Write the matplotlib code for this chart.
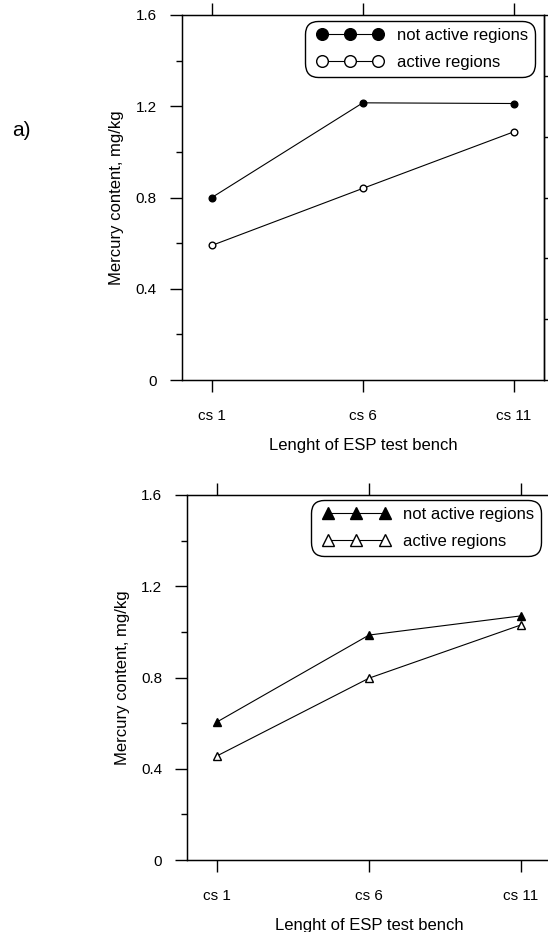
import matplotlib.pyplot as plt
from matplotlib.ticker import MultipleLocator
from matplotlib.lines import Line2D
from matplotlib.legend_handler import HandlerLine2D

plt.rcParams['font.family'] = ['Liberation Sans', 'DejaVu Sans']

# data
positions = [1, 6, 11]
tick_labels = ['cs 1', 'cs 6', 'cs 11']
y_ticks = [0, 0.4, 0.8, 1.2, 1.6]
y_tick_labels = ['0', '0.4', '0.8', '1.2', '1.6']
a_not_active = [0.80, 1.215, 1.212]
a_active = [0.59, 0.84, 1.088]
b_not_active = [0.606, 0.986, 1.07]
b_active = [0.457, 0.797, 1.03]

W, H = 548, 932
fig = plt.figure(figsize=(W / 100, H / 100), dpi=100)


def make_axes(left, top, right, bottom):
    # pixel box -> figure fraction
    return fig.add_axes([left / W, (H - bottom) / H, (right - left) / W, (bottom - top) / H])


def style_axes(ax):
    ax.set_xlim(0, 12)
    ax.set_ylim(0, 1.6)
    ax.set_xticks(positions)
    ax.set_xticklabels(tick_labels)
    ax.set_yticks(y_ticks)
    ax.set_yticklabels(y_tick_labels)
    ax.yaxis.set_minor_locator(MultipleLocator(0.2))
    ax.tick_params(axis='x', which='both', direction='out', top=True, length=8.6, width=1,
                   pad=12, labelsize=11)
    ax.tick_params(axis='y', which='major', direction='out', length=9, width=1, pad=9, labelsize=11)
    ax.tick_params(axis='y', which='minor', direction='out', length=4.3, width=1)
    for s in ax.spines.values():
        s.set_linewidth(1)
    ax.set_xlabel('Lenght of ESP test bench', fontsize=12, labelpad=11)
    ax.set_ylabel('Mercury content, mg/kg', fontsize=12, labelpad=8)
    # right axis with its own scale (labels fall outside the picture)
    ax2 = ax.twinx()
    ax2.set_ylim(0, 6)
    ax2.yaxis.set_major_locator(MultipleLocator(1))
    ax2.tick_params(axis='y', direction='out', length=9, width=1, labelright=False)
    ax2.spines['right'].set_linewidth(1)
    return ax2


def add_legend(ax, x, y):
    leg = ax.legend(loc='upper right', bbox_to_anchor=(x, y), numpoints=3, markerscale=1.75,
                    fontsize=12, handlelength=4.6, handletextpad=0.5, labelspacing=0.7,
                    borderpad=0.42, borderaxespad=0, frameon=True, fancybox=True,
                    handler_map={Line2D: HandlerLine2D(marker_pad=0.6)})
    frame = leg.get_frame()
    frame.set_edgecolor('black')
    frame.set_linewidth(1)
    frame.set_alpha(1)
    frame.set_boxstyle('round', pad=0, rounding_size=0.8)
    return leg


# a) circles
ax_a = make_axes(181.7, 15, 544, 380)
ax_a.plot(positions, a_not_active, color='black', lw=0.8, marker='o', ms=4.8,
          mfc='black', mec='black', mew=1, label='not active regions')
ax_a.plot(positions, a_active, color='black', lw=0.8, marker='o', ms=4.8,
          mfc='white', mec='black', mew=1, label='active regions')
style_axes(ax_a)
add_legend(ax_a, 0.975, 0.984)

# b) triangles
ax_b = make_axes(187, 495, 551, 860)
ax_b.plot(positions, b_not_active, color='black', lw=0.8, marker='^', ms=5.2,
          mfc='black', mec='black', mew=1, label='not active regions')
ax_b.plot(positions, b_active, color='black', lw=0.8, marker='^', ms=5.2,
          mfc='white', mec='black', mew=1, label='active regions')
style_axes(ax_b)
add_legend(ax_b, 0.9725, 0.986)

fig.text(12 / W, 1 - 131 / H, 'a)', fontsize=15, ha='left', va='center')

fig.savefig('out.png', dpi=100)
